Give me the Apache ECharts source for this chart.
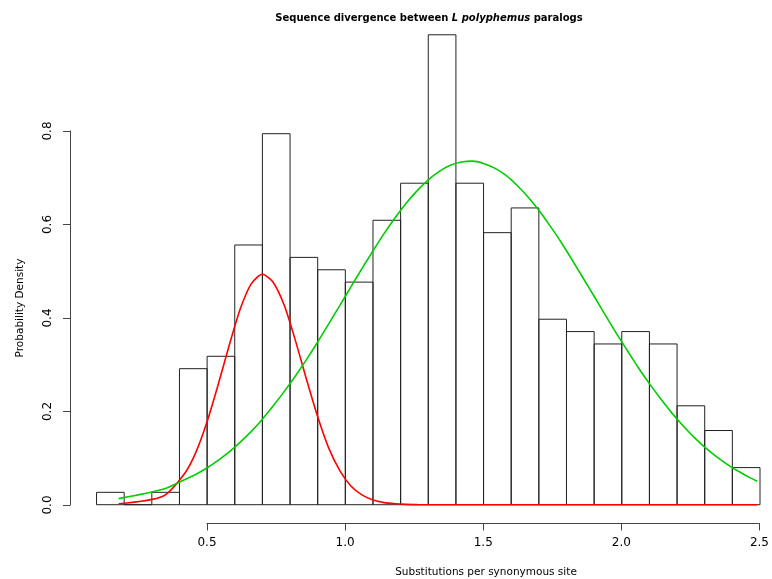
<!DOCTYPE html>
<html>
<head>
<meta charset="utf-8">
<script src="https://cdn.jsdelivr.net/npm/echarts@6/dist/echarts.min.js"></script>
<style>html,body{margin:0;padding:0;background:#fff}#c{width:772px;height:579px}</style>
</head>
<body>
<div id="c"></div>
<script>
// Histogram bin breaks and densities
const breaks = [0.1,0.2,0.3,0.4,0.5,0.6,0.7,0.8,0.9,1.0,1.1,1.2,1.3,1.4,1.5,1.6,1.7,1.8,1.9,2.0,2.1,2.2,2.3,2.4,2.5];
const densities = [0.0265,0,0.0265,0.2910,0.3175,0.5556,0.7937,0.5291,0.5026,0.4762,0.6085,0.6878,1.0053,0.6878,0.5820,0.6349,0.3968,0.3704,0.3439,0.3704,0.3439,0.2116,0.1587,0.0794];

// Fitted curves
const curveX = [0.18,0.34,0.42,0.46,0.50,0.54,0.58,0.62,0.66,0.70,0.74,0.78,0.82,0.86,0.90,0.94,0.98,1.02,1.06,1.10,1.14,1.18,1.22,1.26,1.30,1.34,1.38,1.42,1.46,1.50,1.54,1.58,1.62,1.66,1.70,1.74,1.78,1.82,1.86,1.90,1.94,1.98,2.02,2.06,2.10,2.14,2.18,2.22,2.26,2.30,2.34,2.38,2.42,2.46,2.49];
const redY = [0.002,0.018,0.068,0.113,0.178,0.257,0.341,0.419,0.473,0.493,0.475,0.425,0.350,0.267,0.188,0.121,0.073,0.040,0.021,0.010,0.0045,0.002,0.0007,0.0002,0,0,0,0,0,0,0,0,0,0,0,0,0,0,0,0,0,0,0,0,0,0,0,0,0,0,0,0,0,0,0];
const greenY = [0.013,0.033,0.054,0.065,0.079,0.095,0.113,0.134,0.157,0.183,0.212,0.243,0.276,0.311,0.348,0.387,0.426,0.466,0.505,0.543,0.580,0.614,0.645,0.672,0.695,0.713,0.726,0.733,0.735,0.730,0.720,0.705,0.684,0.659,0.630,0.597,0.562,0.524,0.485,0.446,0.406,0.367,0.330,0.293,0.259,0.227,0.197,0.170,0.145,0.123,0.104,0.087,0.072,0.059,0.050];

// Tick labels
const xTicks = [0.5,1.0,1.5,2.0,2.5];
const xTickLabels = ['0.5','1.0','1.5','2.0','2.5'];
const yTicks = [0.0,0.2,0.4,0.6,0.8];
const yTickLabels = ['0.0','0.2','0.4','0.6','0.8'];

const FONT = 'DejaVu Sans';
const barData = densities.map((d,i)=>[breaks[i],breaks[i+1],d]);
const redData = curveX.map((x,i)=>[x,redY[i]]);
const greenData = curveX.map((x,i)=>[x,greenY[i]]);

const chart = echarts.init(document.getElementById('c'), null, {renderer:'canvas'});
const axisCommon = {
  axisLine:{show:true,lineStyle:{color:'#444',width:1}},
  axisTick:{show:true,inside:false,length:7,lineStyle:{color:'#444',width:1}},
  splitLine:{show:false}
};
chart.setOption({
  animation:false,
  backgroundColor:'#fff',
  grid:[
    {left:70,right:12,top:16,bottom:55.5},
    {left:207,right:12,top:16,bottom:55.5},
    {left:70,right:12,top:131,bottom:74}
  ],
  xAxis:[
    {gridIndex:0,type:'value',min:0.004,max:2.5,show:false},
    Object.assign({gridIndex:1,type:'value',min:xTicks[0],max:xTicks[xTicks.length-1],interval:0.5,
      axisLabel:{color:'#000',fontFamily:FONT,fontSize:12,margin:13,formatter:(v,i)=>xTickLabels[i]}},axisCommon),
    {gridIndex:2,type:'value',min:0,max:1,show:false}
  ],
  yAxis:[
    {gridIndex:0,type:'value',min:-0.0402,max:1.0455,show:false},
    {gridIndex:1,type:'value',min:0,max:1,show:false},
    Object.assign({gridIndex:2,type:'value',min:yTicks[0],max:yTicks[yTicks.length-1],interval:0.2,
      axisLabel:{color:'#000',fontFamily:FONT,fontSize:12,margin:16,rotate:90,formatter:(v,i)=>yTickLabels[i]}},axisCommon)
  ],
  series:[
    {
      type:'custom',xAxisIndex:0,yAxisIndex:0,data:barData,silent:true,
      renderItem:function(params,api){
        const p0=api.coord([api.value(0),api.value(2)]);
        const p1=api.coord([api.value(1),0]);
        return {type:'rect',shape:{x:p0[0],y:p0[1],width:p1[0]-p0[0],height:p1[1]-p0[1]},
          style:{fill:'none',stroke:'#222',lineWidth:1}};
      }
    },
    {type:'line',xAxisIndex:0,yAxisIndex:0,data:redData,symbol:'none',smooth:0.25,silent:true,
      lineStyle:{color:'#ff0000',width:1.6}},
    {type:'line',xAxisIndex:0,yAxisIndex:0,data:greenData,symbol:'none',smooth:0.25,silent:true,
      lineStyle:{color:'#00cd00',width:1.6}}
  ],
  graphic:[
    {type:'text',x:429,y:18,style:{
      text:'{b|Sequence divergence between }{i|L polyphemus}{b| paralogs}',
      align:'center',verticalAlign:'middle',
      rich:{b:{fontFamily:FONT,fontSize:10,fontWeight:'bold',fill:'#000'},
            i:{fontFamily:FONT,fontSize:10,fontWeight:'bold',fontStyle:'italic',fill:'#000'}}}},
    {type:'text',x:486,y:572,style:{text:'Substitutions per synonymous site',align:'center',verticalAlign:'middle',
      fontFamily:FONT,fontSize:10.5,fill:'#000'}},
    {type:'text',x:20,y:308,rotation:Math.PI/2,style:{text:'Probability Density',align:'center',verticalAlign:'middle',
      fontFamily:FONT,fontSize:10.5,fill:'#000'}}
  ]
});
</script>
</body>
</html>
